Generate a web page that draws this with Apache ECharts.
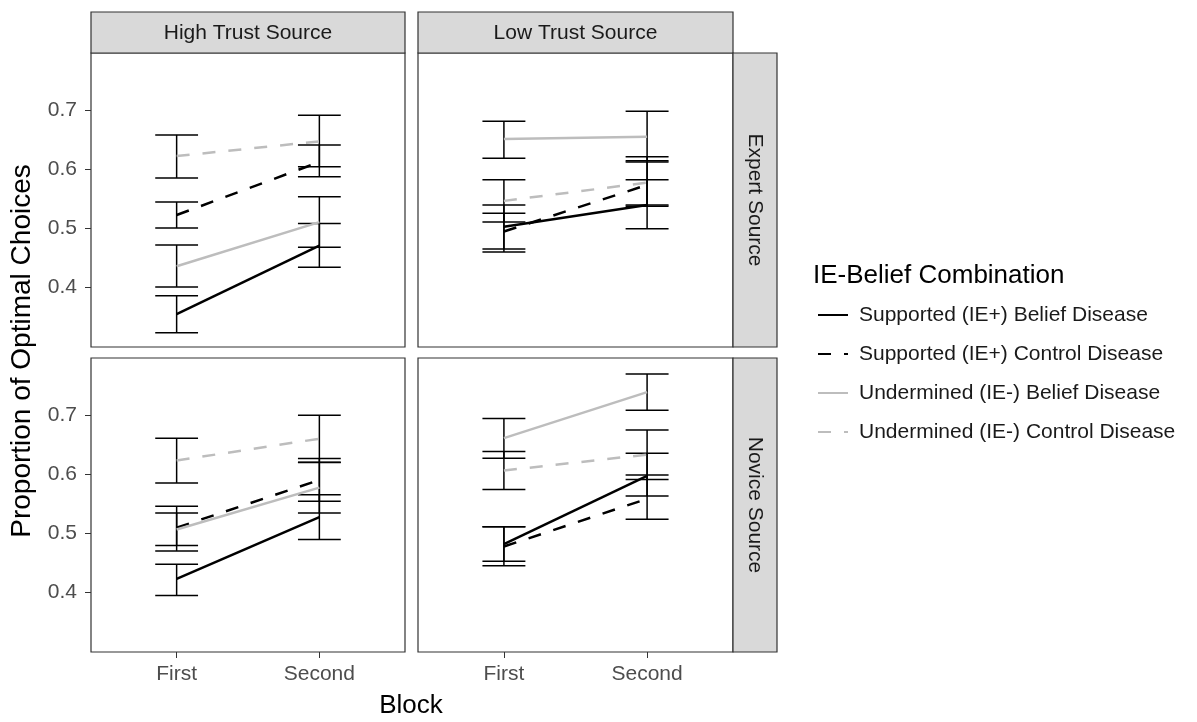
<!DOCTYPE html>
<html>
<head>
<meta charset="utf-8">
<script src="https://cdn.jsdelivr.net/npm/echarts@6/dist/echarts.min.js"></script>
<style>
  html, body { margin: 0; padding: 0; background: #ffffff; }
  #chart { width: 1197px; height: 722px; }
</style>
</head>
<body>
<div id="chart"></div>
<script>
// Categories
const blocks = ['First', 'Second'];
const groups = [
  'Supported (IE+) Belief Disease',
  'Supported (IE+) Control Disease',
  'Undermined (IE-) Belief Disease',
  'Undermined (IE-) Control Disease'
];
const trustLevels = ['High Trust Source', 'Low Trust Source'];
const sourceTypes = ['Expert Source', 'Novice Source'];
const yTicks = [0.4, 0.5, 0.6, 0.7];

// Proportion of optimal choices: rows follow `groups`, columns follow `blocks`.
// High trust source, expert source
const highExpertMean = [[0.354, 0.470], [0.522, 0.612], [0.435, 0.510], [0.622, 0.647]];
const highExpertLow  = [[0.322, 0.4335], [0.500, 0.587], [0.400, 0.4674], [0.585, 0.604]];
const highExpertHigh = [[0.385, 0.5075], [0.544, 0.641], [0.471, 0.553], [0.658, 0.6915]];
// Low trust source, expert source
const lowExpertMean = [[0.502, 0.539], [0.494, 0.573], [0.651, 0.655], [0.546, 0.577]];
const lowExpertLow  = [[0.4645, 0.4985], [0.4594, 0.537], [0.6185, 0.614], [0.510, 0.539]];
const lowExpertHigh = [[0.539, 0.5817], [0.525, 0.612], [0.681, 0.698], [0.5817, 0.621]];
// High trust source, novice source
const highNoviceMean = [[0.422, 0.527], [0.509, 0.590], [0.506, 0.577], [0.623, 0.660]];
const highNoviceLow  = [[0.394, 0.4891], [0.4696, 0.5537], [0.4786, 0.534], [0.585, 0.620]];
const highNoviceHigh = [[0.4471, 0.5648], [0.5453, 0.6265], [0.534, 0.6198], [0.6607, 0.700]];
// Low trust source, novice source
const lowNoviceMean = [[0.481, 0.597], [0.477, 0.558], [0.661, 0.739], [0.606, 0.633]];
const lowNoviceLow  = [[0.4522, 0.5626], [0.4444, 0.5234], [0.627, 0.7084], [0.5739, 0.5907]];
const lowNoviceHigh = [[0.5105, 0.6354], [0.5105, 0.5984], [0.6943, 0.770], [0.6383, 0.6748]];

const panels = [
  { trust: 0, source: 0, mean: highExpertMean, low: highExpertLow, high: highExpertHigh },
  { trust: 1, source: 0, mean: lowExpertMean,  low: lowExpertLow,  high: lowExpertHigh },
  { trust: 0, source: 1, mean: highNoviceMean, low: highNoviceLow, high: highNoviceHigh },
  { trust: 1, source: 1, mean: lowNoviceMean,  low: lowNoviceLow,  high: lowNoviceHigh }
];

const FONT = "'Liberation Sans', Arial, sans-serif";
const lineColors = ['#000000', '#000000', '#bdbdbd', '#bdbdbd'];
const lineDashed = [false, true, false, true];
const colLeft = [91, 418];
const colWidth = [314, 315];
const rowTop = [53, 358];
const rowHeight = 294;
const stripTop = 12;
const stripW = 44;
const whiskerHalf = 0.15;

const grids = [], xAxes = [], yAxes = [], lineSeries = [], barSeries = [];

panels.forEach((p, i) => {
  const isLeft = p.trust === 0;
  const isBottom = p.source === 1;
  grids.push({
    left: colLeft[p.trust], top: rowTop[p.source],
    width: colWidth[p.trust], height: rowHeight,
    show: true, backgroundColor: '#ffffff',
    borderColor: '#333333', borderWidth: 1.2
  });
  xAxes.push({
    type: 'value', gridIndex: i, min: 0.4, max: 2.6,
    axisLine: { show: false },
    splitLine: { show: false },
    axisTick: {
      show: isBottom, customValues: [1, 2], length: 6,
      lineStyle: { color: '#333333', width: 1 }
    },
    axisLabel: {
      show: isBottom, customValues: [1, 2], margin: 12,
      fontSize: 21, color: '#4d4d4d', fontFamily: FONT,
      formatter: v => blocks[Math.round(v) - 1]
    }
  });
  yAxes.push({
    type: 'value', gridIndex: i, min: 0.298, max: 0.797,
    axisLine: { show: false },
    splitLine: { show: false },
    axisTick: {
      show: isLeft, customValues: yTicks, length: 6,
      lineStyle: { color: '#333333', width: 1 }
    },
    axisLabel: {
      show: isLeft, customValues: yTicks, margin: 14,
      fontSize: 21, color: '#4d4d4d', fontFamily: FONT,
      formatter: v => v.toFixed(1)
    }
  });

  groups.forEach((g, gi) => {
    lineSeries.push({
      type: 'line', name: g, xAxisIndex: i, yAxisIndex: i,
      symbol: 'none', z: 3, animation: false,
      itemStyle: { color: lineColors[gi] },
      lineStyle: {
        color: lineColors[gi], width: 2.5,
        type: lineDashed[gi] ? [13, 13] : 'solid'
      },
      data: blocks.map((b, k) => [k + 1, p.mean[gi][k]])
    });
    barSeries.push({
      type: 'custom', name: g, xAxisIndex: i, yAxisIndex: i,
      z: 2, animation: false,
      itemStyle: { color: lineColors[gi] },
      encode: { x: 0, y: [1, 2] },
      data: blocks.map((b, k) => [k + 1, p.low[gi][k], p.high[gi][k]]),
      renderItem: (params, api) => {
        const x = api.value(0);
        const lo = api.coord([x, api.value(1)]);
        const hi = api.coord([x, api.value(2)]);
        const half = api.size([whiskerHalf, 0])[0];
        const style = { stroke: '#000000', lineWidth: 1.5, fill: null };
        return {
          type: 'group',
          children: [
            { type: 'line', shape: { x1: lo[0], y1: lo[1], x2: hi[0], y2: hi[1] }, style },
            { type: 'line', shape: { x1: lo[0] - half, y1: lo[1], x2: lo[0] + half, y2: lo[1] }, style },
            { type: 'line', shape: { x1: hi[0] - half, y1: hi[1], x2: hi[0] + half, y2: hi[1] }, style }
          ]
        };
      }
    });
  });
});

// Facet strips: column labels on top, row labels on the right
const graphics = [];
trustLevels.forEach((t, c) => {
  graphics.push({
    type: 'rect', silent: true,
    shape: { x: colLeft[c], y: stripTop, width: colWidth[c], height: rowTop[0] - stripTop },
    style: { fill: '#d9d9d9', stroke: '#333333', lineWidth: 1.2 }
  });
  graphics.push({
    type: 'text', silent: true,
    x: colLeft[c] + colWidth[c] / 2, y: (stripTop + rowTop[0]) / 2 + 1,
    style: { text: t, fill: '#1a1a1a', font: '21px ' + FONT, align: 'center', verticalAlign: 'middle' }
  });
});
const stripX = colLeft[1] + colWidth[1];
sourceTypes.forEach((s, r) => {
  graphics.push({
    type: 'rect', silent: true,
    shape: { x: stripX, y: rowTop[r], width: stripW, height: rowHeight },
    style: { fill: '#d9d9d9', stroke: '#333333', lineWidth: 1.2 }
  });
  graphics.push({
    type: 'text', silent: true,
    x: stripX + stripW / 2, y: rowTop[r] + rowHeight / 2,
    rotation: -Math.PI / 2,
    style: { text: s, fill: '#1a1a1a', font: '21px ' + FONT, align: 'center', verticalAlign: 'middle' }
  });
});
// Axis titles shared by the facets
graphics.push({
  type: 'text', silent: true, x: 22, y: 351, rotation: Math.PI / 2,
  style: { text: 'Proportion of Optimal Choices', fill: '#000000', font: '28px ' + FONT, align: 'center', verticalAlign: 'middle' }
});
graphics.push({
  type: 'text', silent: true, x: 411, y: 706,
  style: { text: 'Block', fill: '#000000', font: '26px ' + FONT, align: 'center', verticalAlign: 'middle' }
});

const chart = echarts.init(document.getElementById('chart'), null, { renderer: 'canvas' });
chart.setOption({
  backgroundColor: '#ffffff',
  animation: false,
  textStyle: { fontFamily: FONT },
  title: {
    text: 'IE-Belief Combination', left: 808, top: 258,
    textStyle: { fontSize: 26, fontWeight: 'normal', color: '#000000', fontFamily: FONT }
  },
  legend: {
    orient: 'vertical', left: 812, top: 298,
    itemWidth: 30, itemHeight: 14, itemGap: 15,
    data: groups,
    itemStyle: { color: 'rgba(0,0,0,0)', borderColor: 'rgba(0,0,0,0)', borderWidth: 0, opacity: 0 },
    textStyle: { fontSize: 21, lineHeight: 24, color: '#1a1a1a', fontFamily: FONT, padding: [0, 0, 0, 6] }
  },
  grid: grids,
  xAxis: xAxes,
  yAxis: yAxes,
  graphic: graphics,
  series: lineSeries.concat(barSeries)
});
</script>
</body>
</html>
